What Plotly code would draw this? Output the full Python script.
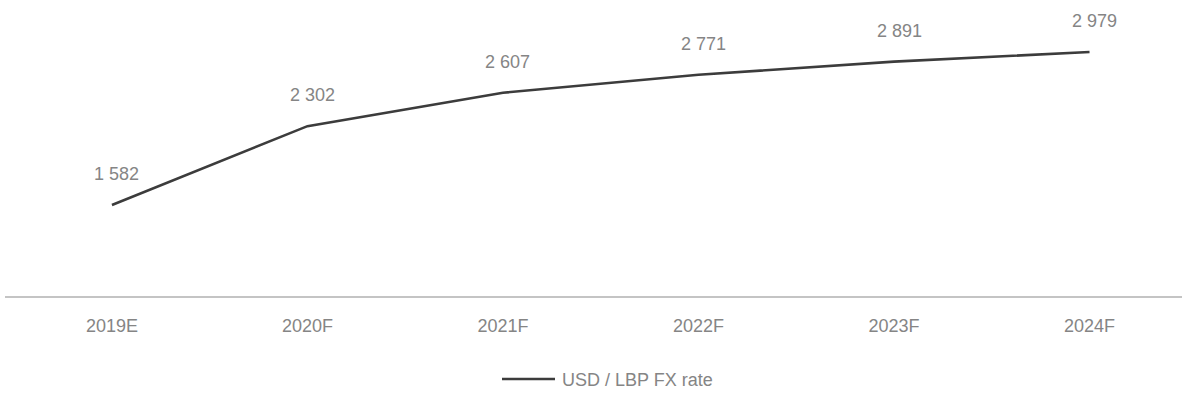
import plotly.graph_objects as go

# USD / LBP exchange rate outlook
years = ["2019E", "2020F", "2021F", "2022F", "2023F", "2024F"]
fx_rate = [1582, 2302, 2607, 2771, 2891, 2979]
series_name = "USD / LBP FX rate"

LINE = "#3c3c3c"
TEXT = "#858585"
FONT = "Liberation Sans, Arial, sans-serif"

fig = go.Figure()
fig.add_trace(go.Scatter(
    x=years, y=fx_rate, mode="lines", name=series_name,
    line=dict(color=LINE, width=2.6), showlegend=False,
))

# value labels above each point, thousands separated by a space
for yr, v in zip(years, fx_rate):
    fig.add_annotation(
        x=yr, y=v, text=f"{v:,}".replace(",", " "), showarrow=False,
        yshift=31, xshift=5, font=dict(family=FONT, size=18, color=TEXT),
    )

# legend entry drawn below the axis
PLOT_W, PLOT_H, LEFT = 1177, 296, 5
fig.add_shape(type="line", xref="paper", yref="paper",
              x0=(502 - LEFT) / PLOT_W, x1=(555 - LEFT) / PLOT_W,
              y0=-(379 - PLOT_H) / PLOT_H, y1=-(379 - PLOT_H) / PLOT_H,
              line=dict(color=LINE, width=2.6))
fig.add_annotation(xref="paper", yref="paper", x=(560 - LEFT) / PLOT_W,
                   y=-(380 - PLOT_H) / PLOT_H, xanchor="left", yanchor="middle",
                   text=series_name, showarrow=False,
                   font=dict(family=FONT, size=18, color=TEXT))

fig.update_layout(
    width=1187, height=397,
    margin=dict(l=LEFT, r=5, t=0, b=101),
    paper_bgcolor="white", plot_bgcolor="white",
    font=dict(family=FONT, size=18, color=TEXT),
    xaxis=dict(
        type="category", range=[-0.547, 5.473],
        showline=True, linecolor="#c4c4c4", linewidth=2,
        showgrid=False, zeroline=False,
        ticks="outside", ticklen=12, tickcolor="rgba(0,0,0,0)",
        tickfont=dict(family=FONT, size=18, color=TEXT),
    ),
    yaxis=dict(range=[751, 3454], visible=False, showgrid=False, zeroline=False),
)

fig.write_html("out.html")
